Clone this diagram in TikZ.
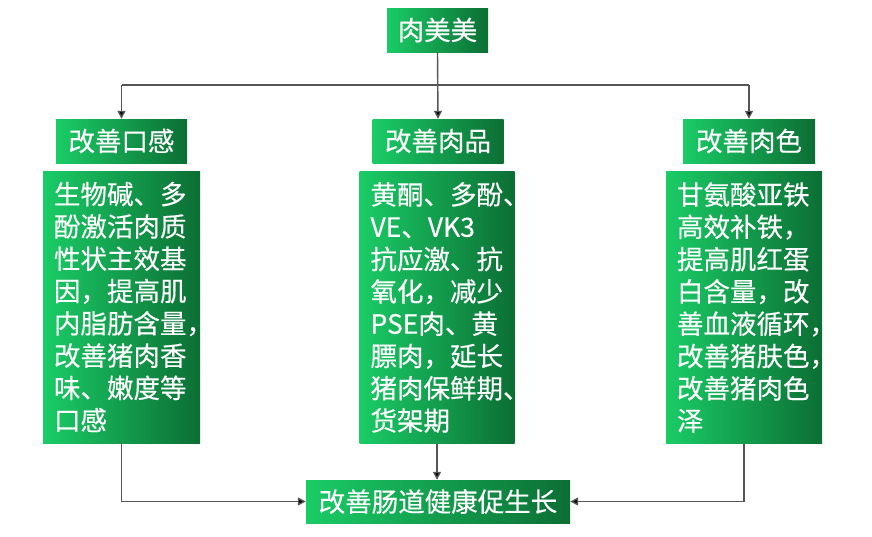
\documentclass[tikz,border=0pt]{standalone}
\usepackage{fontspec}
\newfontfamily\cjk[FakeBold=0.3]{Noto Sans CJK SC}
\usetikzlibrary{arrows.meta}
\definecolor{gA}{RGB}{26,204,102}
\definecolor{gB}{RGB}{22,180,90}
\definecolor{gC}{RGB}{12,110,52}
\definecolor{lineC}{RGB}{85,85,85}
\tikzset{
  gbox/.style={shade, left color=gA, middle color=gB, right color=gC, draw=none,
    inner sep=0pt, text=white, font=\cjk\fontsize{26.5}{32.3}\selectfont},
  hbox/.style={gbox, minimum height=44pt},
  body/.style={gbox, minimum height=272pt, align=left, inner xsep=11pt, inner ysep=0pt},
  conn/.style={draw=lineC, line width=1.4pt},
  arr/.style={conn, -{Triangle[width=8pt,length=8pt,fill=black]}}
}
\begin{document}
\begin{tikzpicture}[x=1pt,y=-1pt]
\useasboundingbox (0,0) rectangle (872,536);
\node[hbox, minimum width=101pt] (top) at (437.5,30) {肉美美};
\node[hbox, minimum width=131pt] (hL) at (121.5,141) {改善口感};
\node[hbox, minimum width=131pt] (hM) at (438,141) {改善肉品};
\node[hbox, minimum width=132pt] (hR) at (749,141) {改善肉色};
\node[body, minimum width=157pt, text width=135pt] (bL) at (121.5,307) {生物碱、多\\酚激活肉质\\性状主效基\\因，提高肌\\内脂肪含量，\\改善猪肉香\\味、嫩度等\\口感};
\node[body, minimum width=155pt, text width=133pt] (bM) at (437,307.5) {黄酮、多酚、\\VE、VK3\\抗应激、抗\\氧化，减少\\PSE肉、黄\\膘肉，延长\\猪肉保鲜期、\\货架期};
\node[body, minimum width=156pt, text width=134pt] (bR) at (744,307.5) {甘氨酸亚铁\\高效补铁，\\提高肌红蛋\\白含量，改\\善血液循环，\\改善猪肤色，\\改善猪肉色\\泽};
\node[hbox, minimum width=264pt, minimum height=43pt] (bot) at (438,501.5) {改善肠道健康促生长};
\coordinate (jL) at (hL.north |- 0,85);
\coordinate (jR) at (hR.north |- 0,85);
\draw[arr] (top.south) -- (hM.north);
\draw[arr] (jL) -- (jR) (jL) -- (hL.north);
\draw[arr] (jR) -- (hR.north);
\draw[arr] (bM.south) -- (bM.south |- bot.north);
\draw[arr] (bL.south) |- (bot.west);
\draw[arr] (bR.south) |- (bot.east);
\end{tikzpicture}
\end{document}
